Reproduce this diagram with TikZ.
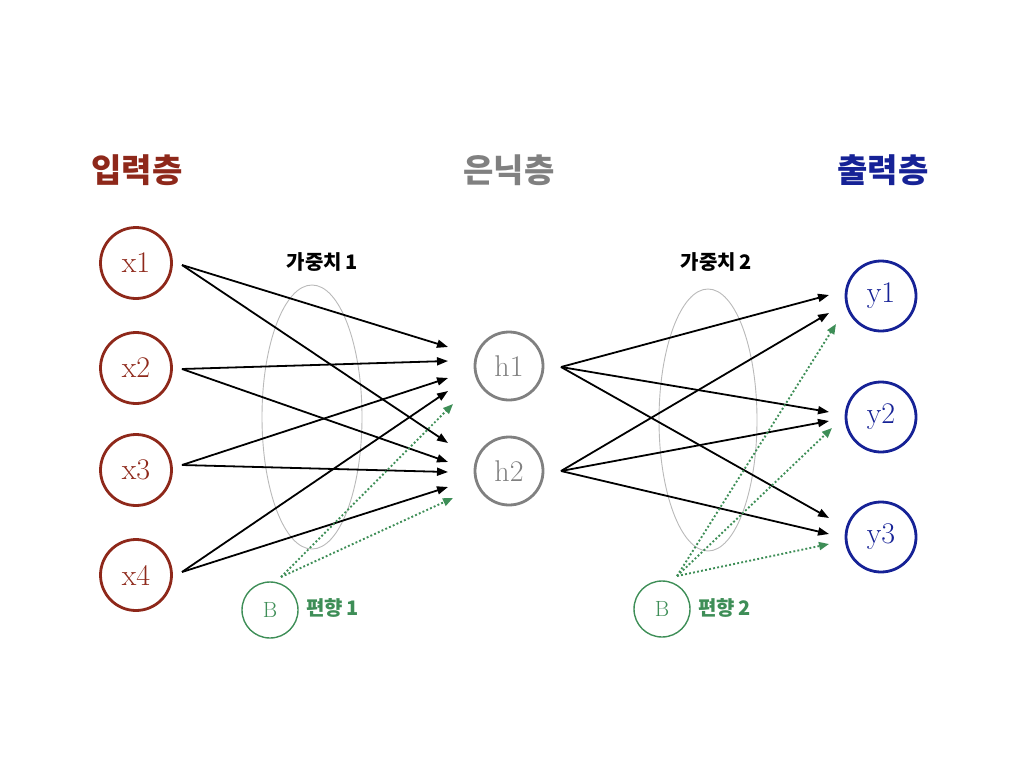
\documentclass[tikz,border=0pt]{standalone}
\usepackage{fontspec}
\newfontfamily\kr{Noto Sans CJK KR}
\usetikzlibrary{arrows.meta}
\definecolor{inred}{RGB}{142,40,26}
\definecolor{outblue}{RGB}{22,34,150}
\definecolor{hidgray}{RGB}{128,128,128}
\definecolor{biasgreen}{RGB}{62,142,87}
\definecolor{ellgray}{RGB}{185,185,185}
\tikzset{
  inode/.style={circle,draw=inred,line width=2.8pt,minimum size=71pt,inner sep=0pt,text=inred,font=\fontsize{30}{32}\selectfont},
  hnode/.style={circle,draw=hidgray,line width=2.8pt,minimum size=68pt,inner sep=0pt,text=hidgray,font=\fontsize{30}{32}\selectfont},
  onode/.style={circle,draw=outblue,line width=2.8pt,minimum size=70pt,inner sep=0pt,text=outblue,font=\fontsize{30}{32}\selectfont},
  bnode/.style={circle,draw=biasgreen,line width=1.4pt,minimum size=56pt,inner sep=0pt,text=biasgreen,font=\fontsize{22}{24}\selectfont},
  header/.style={font=\kr\bfseries\fontsize{33}{36}\selectfont},
  wlabel/.style={font=\kr\bfseries\fontsize{20}{22}\selectfont,text=black},
  blabel/.style={font=\kr\bfseries\fontsize{20}{22}\selectfont,text=biasgreen,anchor=west},
  wire/.style={draw=black,line width=1.8pt,-{Triangle[length=11pt,width=8pt]}},
  bwire/.style={draw=biasgreen,line width=1.9pt,dash pattern=on 1.9pt off 2.2pt,-{Triangle[length=10pt,width=8pt]}},
  group/.style={draw=ellgray,line width=0.9pt}
}
\begin{document}
\begin{tikzpicture}[x=1pt,y=-1pt]
\useasboundingbox (0,0) rectangle (1024,768);
% headers
\node[header,text=inred] (hin) at (137,170) {입력층};
\node[header,text=hidgray] (hhid) at (509,170) {은닉층};
\node[header,text=outblue] (hout) at (883,170) {출력층};
% weight groups
\draw[group] (312,417) ellipse [x radius=50, y radius=132];
\draw[group] (708,420) ellipse [x radius=49, y radius=131];
\node[wlabel] (w1) at (322,262) {가중치\,1};
\node[wlabel] (w2) at (716,262) {가중치\,2};
% nodes
\node[inode] (x1) at (136,263) {x1};
\node[inode] (x2) at (136,368) {x2};
\node[inode] (x3) at (136,470) {x3};
\node[inode] (x4) at (136,575) {x4};
\node[hnode] (h1) at (509,366) {h1};
\node[hnode] (h2) at (509,471) {h2};
\node[onode] (y1) at (881,296) {y1};
\node[onode] (y2) at (881,417) {y2};
\node[onode] (y3) at (881,537) {y3};
\node[bnode] (b1) at (270,610) {B};
\node[bnode] (b2) at (662,609) {B};
\node[blabel] (bl1) at (303,608) {편향\,1};
\node[blabel] (bl2) at (695,608) {편향\,2};
% connector ends
\coordinate (x1o) at (182,265);
\coordinate (x2o) at (182,369);
\coordinate (x3o) at (182,465);
\coordinate (x4o) at (182,572);
\coordinate (b1o) at (281,577);
\coordinate (t11) at (448,347);
\coordinate (t21) at (448,361);
\coordinate (t31) at (448,378);
\coordinate (t41) at (448,391);
\coordinate (tb1) at (453,404);
\coordinate (t12) at (448,443);
\coordinate (t22) at (448,462);
\coordinate (t32) at (448,472);
\coordinate (t42) at (448,487);
\coordinate (tb2) at (453,498);
\coordinate (h1o) at (561,367);
\coordinate (h2o) at (561,471);
\coordinate (b2o) at (677,576);
\coordinate (u11) at (829,295);
\coordinate (u21) at (829,313);
\coordinate (ub1) at (836,324);
\coordinate (u12) at (829,412);
\coordinate (u22) at (829,421);
\coordinate (ub2) at (832,428);
\coordinate (u13) at (829,518);
\coordinate (u23) at (829,534);
\coordinate (ub3) at (829,544);
% layer 1 weights
\draw[wire] (x1o) -- (t11);
\draw[wire] (x1o) -- (t12);
\draw[wire] (x2o) -- (t21);
\draw[wire] (x2o) -- (t22);
\draw[wire] (x3o) -- (t31);
\draw[wire] (x3o) -- (t32);
\draw[wire] (x4o) -- (t41);
\draw[wire] (x4o) -- (t42);
\draw[bwire] (b1o) -- (tb1);
\draw[bwire] (b1o) -- (tb2);
% layer 2 weights
\draw[wire] (h1o) -- (u11);
\draw[wire] (h1o) -- (u12);
\draw[wire] (h1o) -- (u13);
\draw[wire] (h2o) -- (u21);
\draw[wire] (h2o) -- (u22);
\draw[wire] (h2o) -- (u23);
\draw[bwire] (b2o) -- (ub1);
\draw[bwire] (b2o) -- (ub2);
\draw[bwire] (b2o) -- (ub3);
\end{tikzpicture}
\end{document}
